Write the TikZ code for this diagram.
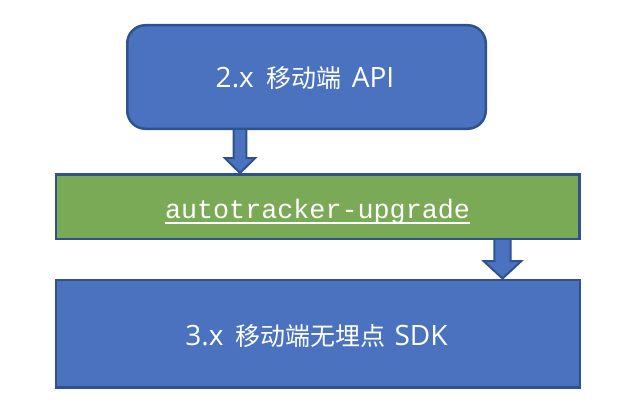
\documentclass[tikz,border=0pt]{standalone}
\usepackage{fontspec}
\setmainfont{Open Sans}
\newfontfamily\cjkf{Noto Sans CJK SC}
\newfontfamily\monof{Liberation Mono}
\usetikzlibrary{calc}
\definecolor{boxblue}{HTML}{4A72BF}
\definecolor{edgeblue}{HTML}{2F528F}
\definecolor{boxgreen}{HTML}{7BAA56}
\newcommand\latt[1]{{\fontsize{28}{32}\selectfont #1}}
\newcommand\cjkt[1]{{\cjkf\fontsize{25}{32}\selectfont #1}}
\newcommand\blockarrow[5]{%
  \path[arrowsty] ($(#1)+(-#3,0)$) -- ($(#2)+(-#3,-#5)$) -- ($(#2)+(-#4,-#5)$)
    -- (#2) -- ($(#2)+(#4,-#5)$) -- ($(#2)+(#3,-#5)$) -- ($(#1)+(#3,0)$);}
\tikzset{
  boxsty/.style={draw=edgeblue, line width=2.5pt, inner sep=0pt},
  bluebox/.style={boxsty, fill=boxblue},
  greenbox/.style={boxsty, fill=boxgreen},
  arrowsty/.style={fill=boxblue, draw=edgeblue, line width=2pt, line join=miter},
  txt/.style={text=white, inner sep=0pt, anchor=base},
}
\begin{document}
\begin{tikzpicture}[x=1pt,y=-1pt]
\useasboundingbox (0,0) rectangle (632,412);
\node[bluebox, rounded corners=18pt, minimum width=358.5pt, minimum height=103.5pt] (top) at (306.5,77) {};
\node[greenbox, minimum width=523.5pt, minimum height=64.5pt] (mid) at (317.5,206.5) {};
\node[bluebox, minimum width=524pt, minimum height=107.5pt] (bot) at (317.75,333.5) {};
\coordinate (a1) at (240,0);
\coordinate (a2) at (502.5,0);
\blockarrow{a1 |- top.south}{a1 |- mid.north}{6.3}{15.3}{15}
\blockarrow{a2 |- mid.south}{a2 |- bot.north}{8.2}{18.7}{17.3}
\node[txt] (t1) at ($(top.center)+(-1.5,11)$) {\latt{2.x}\hspace{13pt}\cjkt{移动端}\hspace{10pt}\latt{API}};
\node[txt] (t2) at ($(mid.center)+(0,11.5)$) {\monof\fontsize{26.75}{30}\selectfont autotracker-upgrade};
\draw[white, line width=1.3pt] ($(t2.base west)+(0,5)$) -- ($(t2.base east)+(0,5)$);
\node[txt] (t3) at ($(bot.center)+(-1.25,11.5)$) {\latt{3.x}\hspace{12pt}\cjkt{移动端无埋点}\hspace{9pt}\latt{SDK}};
\end{tikzpicture}
\end{document}
